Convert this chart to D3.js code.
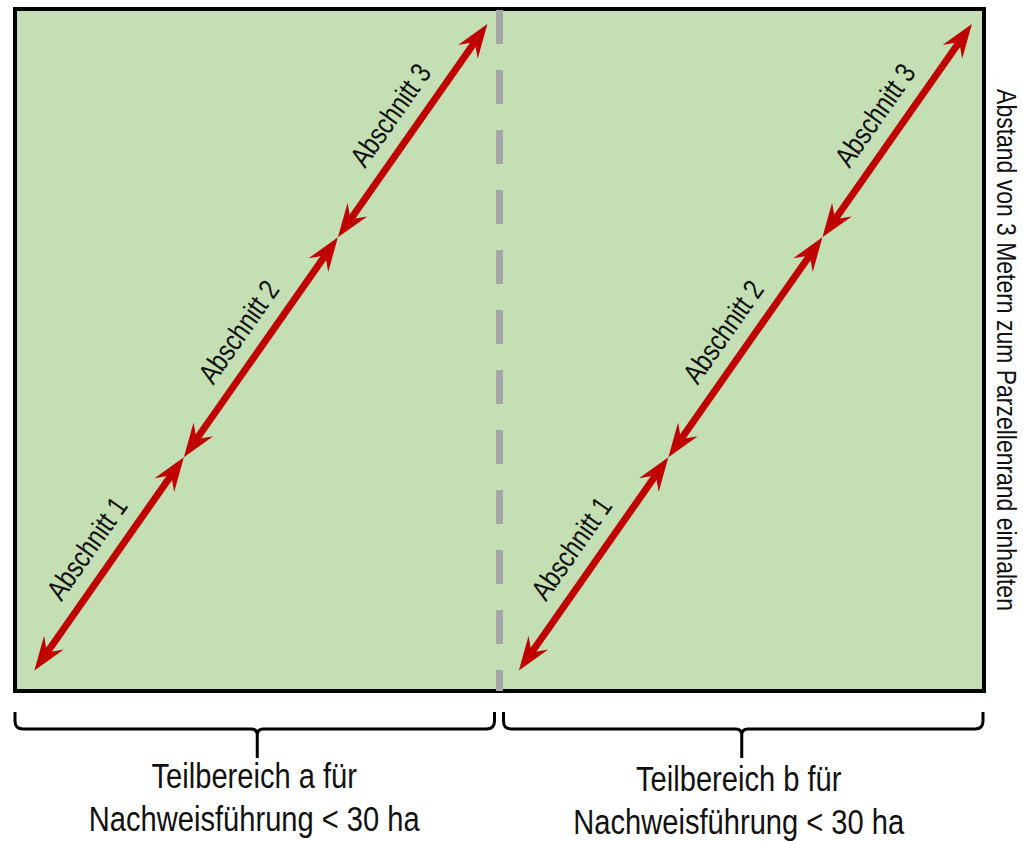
<!DOCTYPE html>
<html>
<head>
<meta charset="utf-8">
<script src="https://d3js.org/d3.v7.min.js"></script>
<style type="text/css">
  body {
    margin: 0;
    background: #fff;
  }
  text {
    font-family: "Liberation Sans", Arial, sans-serif;
    fill: #111;
  }
</style>
</head>
<body>
<svg id="chart" width="1023" height="841"></svg>
<script>

// two sub-areas of the field, each crossed by one diagonal track in three sections
const subAreas = ['a', 'b'];
const sections = ['Abschnitt 1', 'Abschnitt 2', 'Abschnitt 3'];
const sectionBounds = [0, 0.33, 0.67, 1];       // share of the diagonal
const trackStart = [0.04, 0.03];                 // [x, y] in sub-area units
const trackEnd = [0.975, 0.978];
const areaLabels = [
  ['Teilbereich a für', 'Nachweisführung < 30 ha'],
  ['Teilbereich b für', 'Nachweisführung < 30 ha'],
];
const sideNote = 'Abstand von 3 Metern zum Parzellenrand einhalten';

// no narrow face installed, so squeeze the regular one
const narrow = 'scale(0.82 1)';

const chart = d3.select('#chart');

const x = d3.scaleLinear().domain([0, subAreas.length]).range([15, 984]);
const y = d3.scaleLinear().domain([0, 1]).range([691, 9]);

// field
chart.append('rect')
  .attr('x', x(0))
  .attr('y', y(1))
  .attr('width', x(subAreas.length) - x(0))
  .attr('height', y(0) - y(1))
  .attr('fill', '#c5dfb5')
  .attr('stroke', '#000')
  .attr('stroke-width', 4);

// divider between sub-areas
d3.range(1, subAreas.length).forEach(i => {
  chart.append('line')
    .attr('x1', x(i)).attr('x2', x(i))
    .attr('y1', y(1) + 1).attr('y2', y(0))
    .attr('stroke', '#a6a6a6')
    .attr('stroke-width', 7)
    .attr('stroke-dasharray', '34 26');
});

const red = '#c00000';
const headLen = 34, headHalf = 12, notch = 22;

function arrowHead(g, tip, ux, uy) {
  // ux, uy point towards the tip
  const px = -uy, py = ux;
  const pts = [
    [tip[0], tip[1]],
    [tip[0] - ux * headLen + px * headHalf, tip[1] - uy * headLen + py * headHalf],
    [tip[0] - ux * notch, tip[1] - uy * notch],
    [tip[0] - ux * headLen - px * headHalf, tip[1] - uy * headLen - py * headHalf],
  ];
  g.append('path')
    .attr('d', 'M' + pts.map(p => p.join(',')).join('L') + 'Z')
    .attr('fill', red);
}

subAreas.forEach((area, i) => {
  const g = chart.append('g').attr('class', 'track-' + area);
  const along = t => [
    x(i + trackStart[0] + (trackEnd[0] - trackStart[0]) * t),
    y(trackStart[1] + (trackEnd[1] - trackStart[1]) * t),
  ];

  sections.forEach((name, k) => {
    const p = along(sectionBounds[k]);
    const q = along(sectionBounds[k + 1]);
    const dx = q[0] - p[0], dy = q[1] - p[1];
    const len = Math.hypot(dx, dy);
    const ux = dx / len, uy = dy / len;
    const inset = notch - 2;

    g.append('line')
      .attr('x1', p[0] + ux * inset).attr('y1', p[1] + uy * inset)
      .attr('x2', q[0] - ux * inset).attr('y2', q[1] - uy * inset)
      .attr('stroke', red)
      .attr('stroke-width', 7);

    arrowHead(g, q, ux, uy);
    arrowHead(g, p, -ux, -uy);

    // label on the upper-left side of the section
    const angle = Math.atan2(dy, dx) * 180 / Math.PI;
    const mx = (p[0] + q[0]) / 2 + uy * 17;
    const my = (p[1] + q[1]) / 2 - ux * 17;
    g.append('text')
      .attr('transform', `translate(${mx} ${my}) rotate(${angle}) ${narrow}`)
      .attr('text-anchor', 'middle')
      .attr('font-size', 29)
      .text(name);
  });

  // brace under the sub-area
  const x0 = x(i) + (i === 0 ? 0 : 4);
  const x1 = x(i + 1) - (i === subAreas.length - 1 ? 1 : 5);
  const cx = x(i + 0.5);
  const top = 712, by = 729, r = 8;
  g.append('path')
    .attr('d', `M${x0},${top} L${x0},${by - r} Q${x0},${by} ${x0 + r},${by}
      L${cx - 6},${by} Q${cx},${by} ${cx},${by + 6} L${cx},${by + 29}
      M${cx},${by + 6} Q${cx},${by} ${cx + 6},${by}
      L${x1 - r},${by} Q${x1},${by} ${x1},${by - r} L${x1},${top}`)
    .attr('fill', 'none')
    .attr('stroke', '#000')
    .attr('stroke-width', 3);

  const lines = areaLabels[i];
  const base = i === 0 ? 788 : 791;
  g.selectAll('text.area')
    .data(lines)
    .enter().append('text')
    .attr('class', 'area')
    .attr('transform', (d, j) => `translate(${cx - 3} ${base + j * 43}) ${narrow}`)
    .attr('text-anchor', 'middle')
    .attr('font-size', 35.5)
    .text(d => d);
});

// note along the right edge
chart.append('text')
  .attr('transform', `translate(997 ${(y(0) + y(1)) / 2}) rotate(90) ${narrow}`)
  .attr('text-anchor', 'middle')
  .attr('font-size', 28)
  .text(sideNote);

</script>
</body>
</html>
